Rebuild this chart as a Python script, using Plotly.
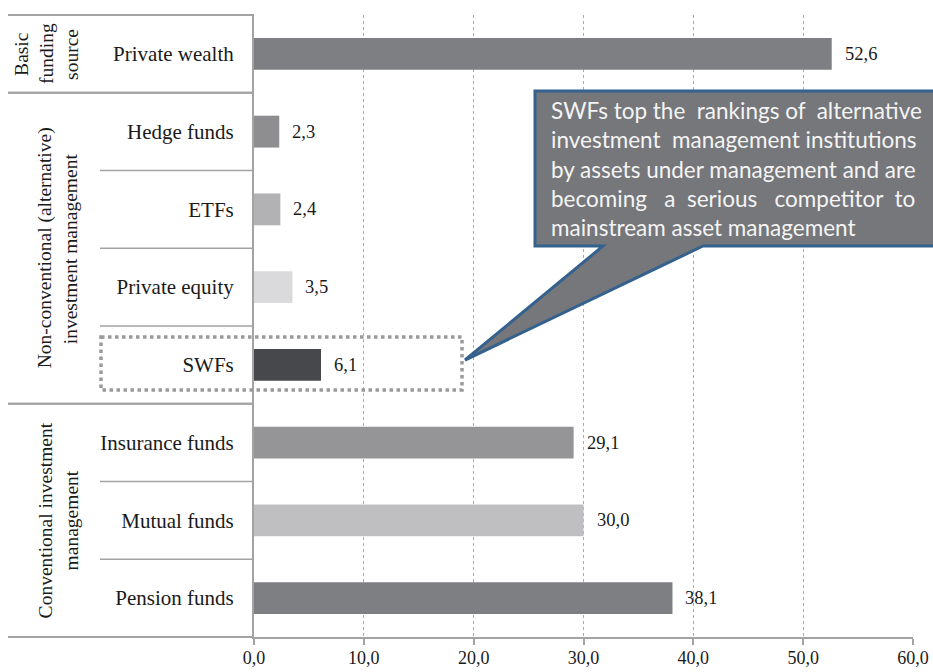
import plotly.graph_objects as go

# ---- data ------------------------------------------------------------------
categories = ["Private wealth", "Hedge funds", "ETFs", "Private equity", "SWFs",
              "Insurance funds", "Mutual funds", "Pension funds"]
values = [52.6, 2.3, 2.4, 3.5, 6.1, 29.1, 30.0, 38.1]
bar_colors = ["#7e7f83", "#8e8e91", "#b2b2b5", "#dadadc", "#47484b",
              "#959598", "#bfbfc2", "#7e7f83"]
value_labels = [f"{v:.1f}".replace(".", ",") for v in values]

group_lines = [["Basic", "funding", "source"],
               ["Non-conventional (alternative)", "investment management"],
               ["Conventional investment", "management"]]
group_spans = [(0, 1), (1, 5), (5, 8)]   # category index ranges
group_line_x = [[22, 47, 72], [45, 70], [45, 71]]   # pixel centre of each text line

tick_vals = [0, 10, 20, 30, 40, 50, 60]
tick_text = [f"{v:.1f}".replace(".", ",") for v in tick_vals]

NB = "\u00a0"
callout = ("SWFs top the" + NB + " rankings of" + NB + " alternative<br>"
           "investment" + NB + " management institutions<br>"
           "by assets under management and are<br>"
           "becoming" + NB * 2 + " a" + NB + " serious" + NB * 2 + " competitor" + NB + " to<br>"
           "mainstream asset management")

# ---- geometry (page pixels) ------------------------------------------------
W, H = 933, 672
L, R, T, B = 254, 913, 15, 637
SERIF = "Liberation Serif, Times New Roman, serif"
LINE = "#a3a3a6"
TXT = "#1a1a1a"


def px(x):
    return (x - L) / (R - L)


def py(y):
    return (B - y) / (B - T)


def cat_y(i):
    # page y of a category boundary (i = 0 top edge)
    return T + i * (B - T) / len(categories)


fig = go.Figure()
fig.add_trace(go.Bar(
    x=values,
    y=categories,
    orientation="h",
    marker=dict(color=bar_colors, line=dict(width=0)),
    width=0.41,
    hoverinfo="x+y",
    showlegend=False,
))

# value labels
for c, v, t in zip(categories, values, value_labels):
    fig.add_annotation(x=v, y=c, text=t, showarrow=False, xanchor="left",
                       xshift=11, font=dict(family=SERIF, size=18.5, color=TXT))

shapes = []
for g0, g1 in group_spans:
    # group separators (full width of label table)
    for i in (g0, g1):
        shapes.append(dict(type="line", xref="paper", yref="paper",
                           x0=px(8), x1=px(L), y0=py(cat_y(i)), y1=py(cat_y(i)),
                           line=dict(color=LINE, width=2)))
    # category separators inside group
    for i in range(g0 + 1, g1):
        shapes.append(dict(type="line", xref="paper", yref="paper",
                           x0=px(100), x1=px(L), y0=py(cat_y(i)), y1=py(cat_y(i)),
                           line=dict(color=LINE, width=1.5)))

# dotted highlight around SWFs
swf = categories.index("SWFs")
yc = (cat_y(swf) + cat_y(swf + 1)) / 2
shapes.append(dict(type="rect", xref="paper", yref="paper",
                   x0=px(101), x1=px(462), y0=py(yc - 28), y1=py(yc + 25),
                   line=dict(color="#9a9a9d", width=3.5, dash="dot"),
                   layer="above"))

# callout box with pointer
pts = [(535, 91), (945, 91), (945, 246), (703, 246), (465, 360), (603, 246), (535, 246)]
path = "M " + " L ".join(f"{px(x):.4f},{py(y):.4f}" for x, y in pts) + " Z"
shapes.append(dict(type="path", xref="paper", yref="paper", path=path,
                   fillcolor="#76777b", line=dict(color="#35618f", width=3),
                   layer="above"))

fig.add_annotation(xref="paper", yref="paper", x=px(549), y=py(95),
                   xanchor="left", yanchor="top", align="left", showarrow=False,
                   text=callout,
                   font=dict(family="Lato, Carlito, Calibri, sans-serif", size=22.5,
                             color="#f4f4f4"))

# group labels (rotated, one annotation per text line)
for lines, xs, (g0, g1) in zip(group_lines, group_line_x, group_spans):
    ymid = (cat_y(g0) + cat_y(g1)) / 2
    for txt, xc in zip(lines, xs):
        fig.add_annotation(xref="paper", yref="paper", x=px(xc), y=py(ymid),
                           xanchor="center", yanchor="middle",
                           text=txt, textangle=-90, showarrow=False,
                           font=dict(family=SERIF, size=19.5, color=TXT))

fig.update_layout(
    width=W, height=H,
    margin=dict(l=L, r=W - R, t=T, b=H - B, pad=0),
    plot_bgcolor="white", paper_bgcolor="white",
    shapes=shapes,
    xaxis=dict(
        range=[0, 60], tickvals=tick_vals, ticktext=tick_text,
        showgrid=True, gridcolor="#8fb0de", griddash="dot", gridwidth=1,
        zeroline=False, showline=True, linecolor=LINE, linewidth=2,
        ticks="outside", ticklen=6, tickcolor=LINE, tickwidth=1.5,
        ticklabelstandoff=-3, ticklabeloverflow="allow",
        tickfont=dict(family=SERIF, size=18, color=TXT),
        automargin=False, fixedrange=True,
    ),
    yaxis=dict(
        type="category", categoryorder="array", categoryarray=categories,
        autorange="reversed", showgrid=False, zeroline=False,
        showline=True, linecolor=LINE, linewidth=2,
        ticks="", ticklabelstandoff=14,
        tickfont=dict(family=SERIF, size=21, color=TXT),
        automargin=False, fixedrange=True,
    ),
)

# drop the default body margin so the 933x672 figure fills the window exactly
fig.write_html("out.html", config={"displayModeBar": False},
               post_script="document.body.style.margin='0';document.body.style.overflow='hidden';")
